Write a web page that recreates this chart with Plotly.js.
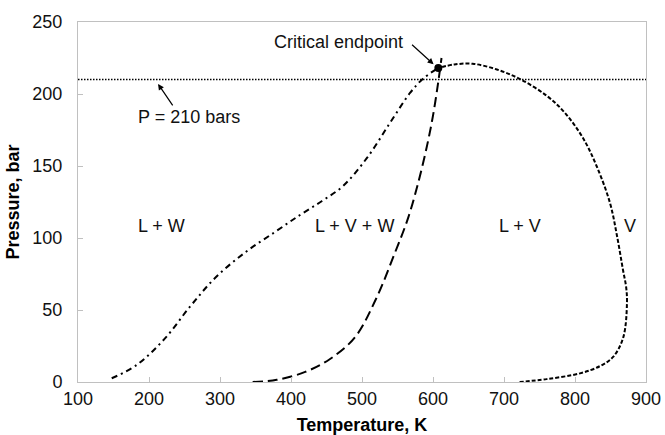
<!DOCTYPE html>
<html>
<head>
<meta charset="utf-8">
<script src="https://cdn.plot.ly/plotly-3.0.1.min.js"></script>
<style>html,body{margin:0;padding:0;background:#fff;}#chart{width:665px;height:435px;}</style>
</head>
<body>
<div id="chart"></div>
<script>
// L + W boundary (dash-dot)
const lwT = [147.5, 182.6, 222.5, 257.7, 293, 335.2, 377.5, 412.7, 443.7, 473.2, 507, 539.4, 567.6, 585.9, 607];
const lwP = [2.6, 11.8, 30.3, 52.3, 72.2, 89.9, 104.2, 116, 125.7, 136.1, 155.6, 179.9, 200.7, 210.6, 218];
// L + V + W / L + V boundary (long dash)
const lvwT = [346, 380, 420, 455, 490, 520, 545, 565, 580, 592, 600, 607, 612];
const lvwP = [0, 1.5, 7, 16, 31, 58, 88, 114, 140, 165, 185, 207, 225];
// V boundary (short dash)
const vT = [722, 760, 807, 835, 854, 868, 873.2, 872, 867.6, 859.2, 849.3, 831, 811.3, 786, 760.6, 722.5, 690, 656, 630, 607];
const vP = [0, 2, 6, 11, 17.6, 31, 54.9, 66, 77.8, 101.4, 124.3, 149.3, 169.4, 186.8, 198.6, 210.4, 217, 221, 220.5, 218];
// P = 210 bars line
const refT = [100, 900];
const refP = [210, 210];
// Critical endpoint
const cepT = [607.5];
const cepP = [218];

const xTicks = [100, 200, 300, 400, 500, 600, 700, 800, 900];
const yTicks = [0, 50, 100, 150, 200, 250];

const FONT = 'Liberation Sans, Arial, sans-serif';

const traces = [
  {x: refT, y: refP, mode: 'lines', line: {color: '#000', width: 1.5, dash: '1.5px,1.5px'}, hoverinfo: 'skip'},
  {x: lwT, y: lwP, mode: 'lines', line: {color: '#000', width: 2, dash: '6px,4px,2px,4px', shape: 'spline', smoothing: 1}},
  {x: lvwT, y: lvwP, mode: 'lines', line: {color: '#000', width: 2, dash: '10px,5px', shape: 'spline', smoothing: 1}},
  {x: vT, y: vP, mode: 'lines', line: {color: '#000', width: 2, dash: '4px,2px', shape: 'spline', smoothing: 1}},
  {x: cepT, y: cepP, mode: 'markers', marker: {color: '#000', size: 8}}
];

const ann = (x, y, text) => ({x, y, xref: 'x', yref: 'y', text, showarrow: false, font: {family: FONT, size: 18, color: '#111'}});
const arrow = (x, y, ax, ay) => ({x, y, ax, ay, xref: 'x', yref: 'y', axref: 'pixel', ayref: 'pixel', text: '',
  font: {size: 1}, borderpad: 0, showarrow: true, arrowhead: 2, arrowsize: 1, arrowwidth: 1.2, arrowcolor: '#000'});

const layout = {
  width: 665, height: 435,
  margin: {l: 78, r: 19, t: 22, b: 53},
  paper_bgcolor: '#fff', plot_bgcolor: '#fff',
  showlegend: false,
  font: {family: FONT, size: 18, color: '#111'},
  xaxis: {
    range: [100, 900], tickvals: xTicks, ticktext: xTicks.map(String),
    showgrid: false, zeroline: false, showline: true, mirror: true, linecolor: '#c0c0c0', linewidth: 1,
    ticks: 'inside', ticklen: 5, tickcolor: '#c0c0c0',
    tickfont: {family: FONT, size: 18, color: '#111'},
    title: {text: '<b>Temperature, K</b>', font: {family: FONT, size: 18, color: '#000'}, standoff: 11},
    automargin: false
  },
  yaxis: {
    range: [0, 250], tickvals: yTicks, ticktext: yTicks.map(String),
    showgrid: false, zeroline: false, showline: true, mirror: true, linecolor: '#c0c0c0', linewidth: 1,
    ticks: 'inside', ticklen: 5, tickcolor: '#c0c0c0',
    tickfont: {family: FONT, size: 18, color: '#111'},
    ticklabelstandoff: 11,
    title: {text: '<b>Pressure, bar</b>', font: {family: FONT, size: 18, color: '#000'}, standoff: 8},
    automargin: false
  },
  annotations: [
    ann(218, 108, 'L + W'),
    ann(489, 108, 'L + V + W'),
    ann(723, 108, 'L + V'),
    ann(878, 108, 'V'),
    ann(256, 184, 'P = 210 bars'),
    ann(467, 235.8, 'Critical endpoint'),
    arrow(600.8, 220.6, -22, -20),
    arrow(212.7, 207, 15, 22)
  ]
};

Plotly.newPlot('chart', traces, layout, {staticPlot: true, displayModeBar: false});
</script>
</body>
</html>
